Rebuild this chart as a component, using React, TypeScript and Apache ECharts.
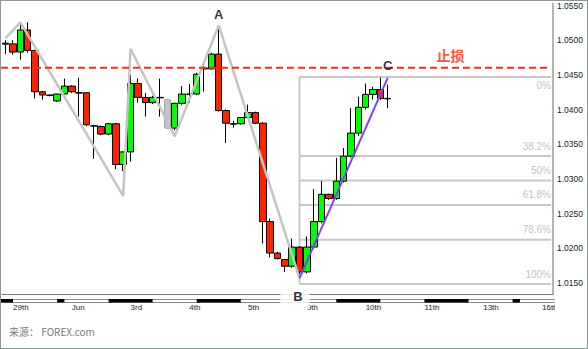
import React, { useEffect, useRef } from 'react';
import * as echarts from 'echarts';

// 4-hour candle slots on the category axis (data candles + empty future slots)
const slotCount = 75;
const slots: string[] = Array.from({ length: slotCount }, (_, i) => String(i));

// [open, close, low, high]
const candles: number[][] = [
  [1.04957, 1.04943, 1.0480, 1.0500],
  [1.04947, 1.04829, 1.0479, 1.0500],
  [1.04829, 1.05147, 1.0472, 1.0523],
  [1.05147, 1.04853, 1.0482, 1.0526],
  [1.04853, 1.04257, 1.04161, 1.04853],
  [1.04257, 1.0421, 1.04143, 1.0427],
  [1.0421, 1.04205, 1.0419, 1.0422],
  [1.04124, 1.04224, 1.0411, 1.0423],
  [1.04224, 1.04339, 1.0421, 1.04447],
  [1.04339, 1.04257, 1.0424, 1.0435],
  [1.04243, 1.04238, 1.0390, 1.0446],
  [1.04243, 1.03781, 1.0376, 1.0425],
  [1.03767, 1.03762, 1.0329, 1.0378],
  [1.03757, 1.03647, 1.0363, 1.0377],
  [1.03647, 1.03796, 1.0363, 1.0381],
  [1.03796, 1.0321, 1.03143, 1.0381],
  [1.0321, 1.0339, 1.03114, 1.0340],
  [1.0339, 1.04376, 1.0325, 1.0450],
  [1.04376, 1.04176, 1.0410, 1.0445],
  [1.04176, 1.041, 1.0390, 1.0424],
  [1.041, 1.04176, 1.0408, 1.0420],
  [1.04176, 1.0417, 1.0390, 1.04447],
  [1.04143, 1.03733, 1.0372, 1.0416],
  [1.03733, 1.0409, 1.0370, 1.0410],
  [1.0409, 1.04224, 1.0407, 1.04339],
  [1.04224, 1.0422, 1.0410, 1.0437],
  [1.04224, 1.0451, 1.0421, 1.0453],
  [1.0460, 1.04586, 1.0426, 1.0465],
  [1.04586, 1.0480, 1.0458, 1.0482],
  [1.0480, 1.03986, 1.0397, 1.05214],
  [1.03986, 1.03804, 1.03519, 1.0400],
  [1.03796, 1.0379, 1.0374, 1.0384],
  [1.03796, 1.03886, 1.0378, 1.0389],
  [1.03886, 1.03957, 1.0387, 1.04071],
  [1.03957, 1.03804, 1.0379, 1.0397],
  [1.03804, 1.02386, 1.02071, 1.0382],
  [1.02386, 1.01933, 1.01871, 1.0243],
  [1.01933, 1.01853, 1.0184, 1.0195],
  [1.01839, 1.01743, 1.01661, 1.0185],
  [1.01743, 1.02019, 1.0172, 1.02143],
  [1.02019, 1.01661, 1.01571, 1.0203],
  [1.01661, 1.02019, 1.0164, 1.02171],
  [1.02019, 1.02386, 1.0199, 1.02857],
  [1.02386, 1.02779, 1.0236, 1.02971],
  [1.02779, 1.02719, 1.0270, 1.0279],
  [1.02719, 1.02969, 1.0270, 1.03304],
  [1.02969, 1.03329, 1.0295, 1.03447],
  [1.03329, 1.03661, 1.0331, 1.0402],
  [1.03661, 1.04033, 1.0362, 1.04186],
  [1.04033, 1.04219, 1.0400, 1.04376],
  [1.04219, 1.0429, 1.04143, 1.04329],
  [1.0429, 1.04161, 1.0414, 1.0446],
  [1.04161, 1.04155, 1.04019, 1.0436],
];
const grayCandleIdx = 22;

// gray zig-zag swing line
const zigzagIdx = [0, 2, 16, 17, 23, 29, 40];
const zigzagPrice = [1.0503, 1.05257, 1.02757, 1.04876, 1.03614, 1.05214, 1.01571];

// purple B -> C trend line
const trendIdx = [40, 52];
const trendPrice = [1.01571, 1.04457];

// A / B / C points
const abcNames = ['A', 'B', 'C'];
const abcIdx = [29, 40, 52];
const abcPrice = [1.05214, 1.01571, 1.04471];

// stop loss
const stopPrice = 1.04604;
const stopLabel = '止损';
const stopLabelIdx = 60;

// fibonacci retracement B -> C
const fibHigh = 1.04471;
const fibLow = 1.01486;
const fibStartIdx = 40;
const fibRatios = [0, 0.382, 0.5, 0.618, 0.786, 1];
const fibLabels = ['0%', '38.2%', '50%', '61.8%', '78.6%', '100%'];

// price axis
const yMin = 1.0134286;
const yMax = 1.0552857;
const priceTicks = [1.015, 1.02, 1.025, 1.03, 1.035, 1.04, 1.045, 1.05, 1.055];

// time axis
const dayTickIdx = [1, 9, 17, 25, 33, 41, 49, 57, 65, 73];
const dayTickLabels = ['29th', 'Jun', '3rd', '4th', '5th', '9th', '10th', '11th', '13th', '16th'];
const darkDaySpans = [[0, 1], [7, 8], [14, 20], [26, 32], [45, 51], [57, 63], [69, 70]];

const sourceText = '来源： FOREX.com';

export default function App() {
  const ref = useRef<HTMLDivElement>(null);
  useEffect(() => {
    if (!ref.current) return;
    const chart = echarts.init(ref.current, null, { renderer: 'svg' });
    const fibPrices = fibRatios.map((r) => fibHigh - r * (fibHigh - fibLow));
    const option: any = {
      animation: false,
      backgroundColor: '#fff',
      grid: { left: 1, right: 34, top: 0, bottom: 54, containLabel: false },
      xAxis: {
        type: 'category',
        data: slots,
        boundaryGap: true,
        axisLine: { show: true, lineStyle: { color: '#777', width: 1 } },
        axisTick: { show: false },
        splitLine: { show: false },
        axisLabel: {
          interval: (i: number) => dayTickIdx.indexOf(i) >= 0,
          formatter: (v: string) => {
            const k = dayTickIdx.indexOf(Number(v));
            return k >= 0 ? dayTickLabels[k] : '';
          },
          align: 'left',
          margin: 9,
          fontSize: 8,
          color: '#222',
          fontFamily: 'Liberation Sans',
        },
      },
      yAxis: {
        type: 'value',
        position: 'right',
        min: yMin,
        max: yMax,
        axisLine: { show: true, lineStyle: { color: '#b4b4b4', width: 2 } },
        axisTick: { show: false },
        splitLine: { show: false },
        axisLabel: {
          customValues: priceTicks,
          formatter: (v: number) => v.toFixed(4),
          margin: 4,
          fontSize: 8.5,
          color: '#222',
          fontFamily: 'Liberation Sans',
        },
      },
      series: [
        {
          type: 'custom',
          name: 'strip',
          silent: true,
          clip: false,
          z: 1,
          data: darkDaySpans.map((s) => [s[0], s[1], yMin]),
          encode: { x: [0, 1], y: 2 },
          renderItem: (params: any, api: any) => {
            const cs = params.coordSys;
            const s = darkDaySpans[params.dataIndex];
            const x0 = s[0] === 0 ? cs.x - 1 : api.coord([s[0], yMin])[0];
            const x1 = api.coord([s[1], yMin])[0];
            const yTop = cs.y + cs.height + 5;
            const children: any[] = [];
            if (params.dataIndex === 0) {
              children.push({ type: 'line', shape: { x1: cs.x - 1, y1: yTop + 0.5, x2: cs.x + cs.width + 2, y2: yTop + 0.5 }, style: { stroke: '#8a8a8a', lineWidth: 1 } });
              children.push({ type: 'line', shape: { x1: cs.x - 1, y1: yTop + 3.5, x2: cs.x + cs.width + 2, y2: yTop + 3.5 }, style: { stroke: '#8a8a8a', lineWidth: 1 } });
            }
            children.push({ type: 'rect', shape: { x: x0, y: yTop, width: x1 - x0, height: 3.5 }, style: { fill: '#000' } });
            return { type: 'group', children };
          },
        },
        {
          type: 'custom',
          name: 'fib',
          silent: true,
          z: 2,
          data: fibPrices.map((p, i) => [fibStartIdx, p, i]),
          encode: { x: 0, y: 1 },
          renderItem: (params: any, api: any) => {
            const cs = params.coordSys;
            const i = params.dataIndex;
            const p = api.coord([fibStartIdx, fibPrices[i]]);
            const xr = cs.x + cs.width - 2;
            const children: any[] = [
              { type: 'line', shape: { x1: p[0], y1: p[1], x2: xr, y2: p[1] }, style: { stroke: '#c8c8c8', lineWidth: 2 } },
              {
                type: 'text',
                style: {
                  text: fibLabels[i], x: xr, y: i === 0 ? p[1] + 9 : p[1] - 10,
                  align: 'right', verticalAlign: 'middle', fill: '#c2c2c2',
                  fontSize: 10, fontFamily: 'Liberation Sans',
                },
              },
            ];
            if (i === fibRatios.length - 1) {
              const top = api.coord([fibStartIdx, fibPrices[0]]);
              children.push({ type: 'line', shape: { x1: p[0], y1: top[1], x2: p[0], y2: p[1] }, style: { stroke: '#c8c8c8', lineWidth: 2 } });
            }
            return { type: 'group', children };
          },
        },
        {
          type: 'candlestick',
          barWidth: 7,
          z: 3,
          data: candles.map((c, i) =>
            i === grayCandleIdx
              ? { value: c, itemStyle: { color: '#c4c4c4', color0: '#c4c4c4', borderColor: '#a8a8a8', borderColor0: '#a8a8a8' } }
              : c
          ),
          itemStyle: { color: '#00ff00', color0: '#ff2200', borderColor: '#000', borderColor0: '#000', borderWidth: 1 },
        },
        {
          type: 'line',
          z: 4,
          symbol: 'none',
          data: zigzagIdx.map((x, i) => [x, zigzagPrice[i]]),
          lineStyle: { color: '#c4c4c4', width: 2.5 },
        },
        {
          type: 'line',
          z: 5,
          symbol: 'none',
          data: trendIdx.map((x, i) => [x, trendPrice[i]]),
          lineStyle: { color: '#8040ff', width: 2 },
        },
        {
          type: 'custom',
          name: 'stop',
          silent: true,
          z: 6,
          data: [[0, stopPrice]],
          encode: { x: 0, y: 1 },
          renderItem: (params: any, api: any) => {
            const cs = params.coordSys;
            const y = api.coord([0, stopPrice])[1];
            return {
              type: 'line',
              shape: { x1: cs.x - 1, y1: y, x2: cs.x + cs.width - 2, y2: y },
              style: { stroke: '#ff2a1a', lineWidth: 2, lineDash: [7, 4] },
            };
          },
        },
        {
          type: 'scatter',
          z: 10,
          symbolSize: 0,
          silent: true,
          data: [
            { value: [abcIdx[0], abcPrice[0]], label: { formatter: abcNames[0], position: 'top', distance: 4 } },
            {
              value: [abcIdx[1], abcPrice[1]],
              label: { formatter: abcNames[1], position: 'bottom', distance: 7, backgroundColor: '#fff', padding: [5, 7, 5, 13], offset: [-4.5, 0] },
            },
            { value: [abcIdx[2], abcPrice[2]], label: { formatter: abcNames[2], position: 'top', distance: 5 } },
            {
              value: [stopLabelIdx, stopPrice],
              label: { formatter: stopLabel, position: 'top', distance: 6, offset: [4, 0], color: '#ff2200', fontSize: 14, fontFamily: 'Noto Sans CJK SC' },
            },
          ],
          label: { show: true, color: '#000', fontSize: 13, fontWeight: 'bold', fontFamily: 'Liberation Sans' },
        },
      ],
      graphic: [
        {
          type: 'rect', left: 554, top: 302, z: 100, silent: true,
          shape: { width: 32, height: 12 }, style: { fill: '#fff' },
        },
        {
          type: 'text', left: 8, top: 325, silent: true,
          style: { text: sourceText, fill: '#7a7a7a', fontSize: 10, fontFamily: 'Noto Sans CJK SC' },
        },
      ],
    };
    chart.setOption(option);
    return () => chart.dispose();
  }, []);
  return (
    <div
      style={{
        position: 'absolute', left: 0, top: 0, width: 588, height: 349,
        boxSizing: 'border-box', border: '1px solid #8d9999', background: '#fff',
      }}
    >
      <div ref={ref} style={{ width: 586, height: 347 }} />
    </div>
  );
}
